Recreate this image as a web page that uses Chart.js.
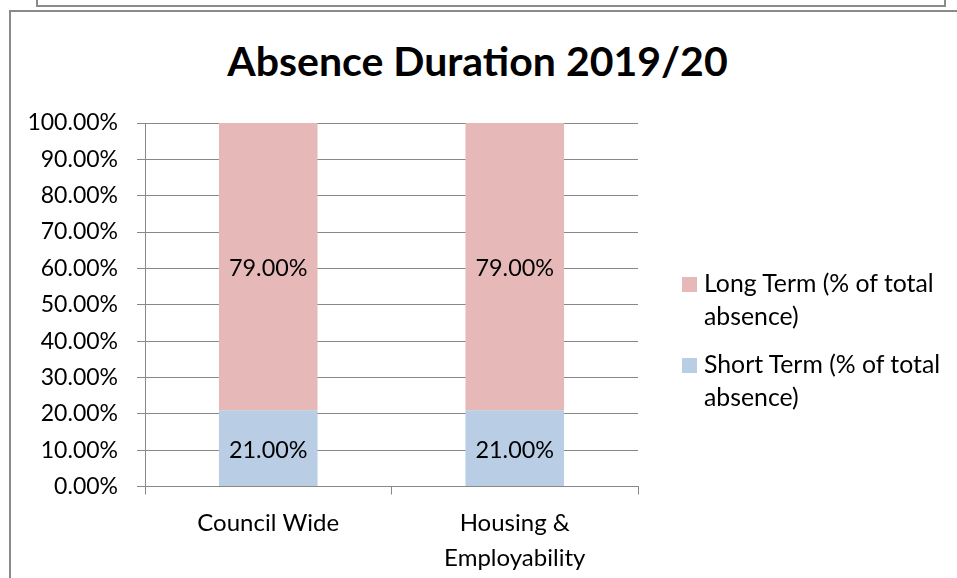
<!DOCTYPE html>
<html>
<head>
<meta charset="utf-8">
<script src="https://cdn.jsdelivr.net/npm/chart.js@4/dist/chart.umd.min.js"></script>
<style>
	body { margin: 0; background: #fff; width: 957px; height: 578px; overflow: hidden; position: relative; font-family: Lato, sans-serif; }
	div.topbox { position: absolute; left: 36px; top: -4px; width: 906px; height: 7px; border: 2px solid #8a8a8a; }
	div.chartbox { position: absolute; left: 9px; top: 10px; width: 980px; height: 600px; border-left: 2px solid #8a8a8a; border-top: 2px solid #8a8a8a; }
	div.title { position: absolute; left: 0; top: 36px; width: 955px; text-align: center; font-size: 41px; line-height: 50px; font-weight: bold; color: #000; }
	canvas#chart { position: absolute; left: 0; top: 0; }
	div.legend { position: absolute; left: 682px; top: 266px; width: 272px; }
	div.legend div.item { display: flex; align-items: flex-start; margin-bottom: 15px; }
	div.legend div.swatch { width: 15px; height: 15px; margin-top: 11px; margin-right: 7px; flex: none; }
	div.legend div.text { font-size: 24.8px; line-height: 33px; color: #000; width: 250px; }
</style>
</head>
<body>
<div class="topbox"></div>
<div class="chartbox"></div>
<div class="title"></div>
<canvas id="chart" width="957" height="578"></canvas>
<div class="legend"></div>
<script>
// chart values
const chart_title = 'Absence Duration 2019/20';
const categories = [['Council Wide'], ['Housing &', 'Employability']];
const short_term_label = 'Short Term (% of total absence)';
const long_term_label = 'Long Term (% of total absence)';
const short_term = [0.21, 0.21];
const long_term = [0.79, 0.79];
const short_color = '#b9cde5';
const long_color = '#e6b9b8';

const grid_color = '#888888';
const font_family = 'Lato, sans-serif';

document.querySelector('div.title').textContent = chart_title;

function formatPercent(v)
{
	return (v * 100).toFixed(2) + '%';
}

// draws value labels in the middle of each bar segment
const barLabels = {
	id: 'barLabels',
	afterDatasetsDraw: function(chart)
	{
		let ctx = chart.ctx;
		ctx.save();
		ctx.font = '23.4px ' + font_family;
		ctx.fillStyle = '#000';
		ctx.textAlign = 'center';
		ctx.textBaseline = 'middle';
		chart.data.datasets.forEach(function(ds, i)
		{
			let meta = chart.getDatasetMeta(i);
			meta.data.forEach(function(bar, j)
			{
				ctx.fillText(formatPercent(ds.data[j]), bar.x, (bar.y + bar.base) / 2 + 2);
			});
		});
		ctx.restore();
	}
};

let chart = new Chart(document.getElementById('chart'), {
	type: 'bar',
	data: {
		labels: categories,
		datasets: [
			{
				label: short_term_label,
				data: short_term,
				backgroundColor: short_color,
				borderWidth: 0,
				categoryPercentage: 1,
				barPercentage: 0.4
			},
			{
				label: long_term_label,
				data: long_term,
				backgroundColor: long_color,
				borderWidth: 0,
				categoryPercentage: 1,
				barPercentage: 0.4
			}
		]
	},
	options: {
		responsive: false,
		animation: false,
		layout: {
			padding: { left: 0, right: 319, top: 123, bottom: 0 }
		},
		plugins: {
			legend: { display: false },
			tooltip: { enabled: false },
			title: { display: false }
		},
		scales: {
			x: {
				stacked: true,
				grid: { drawOnChartArea: false, drawTicks: true, tickLength: 8, color: grid_color, offset: true },
				border: { display: true, color: grid_color, width: 1 },
				ticks: {
					color: '#000',
					padding: 11,
					maxRotation: 0,
					font: { family: font_family, size: 24, lineHeight: 1.46 }
				},
				afterFit: function(scale) { scale.height = 578 - 486.5; }
			},
			y: {
				stacked: true,
				min: 0,
				max: 1,
				grid: { color: grid_color, tickLength: 8, drawTicks: true },
				border: { display: true, color: grid_color, width: 1 },
				ticks: {
					stepSize: 0.1,
					color: '#000',
					padding: 19,
					font: { family: font_family, size: 23 },
					callback: function(v) { return formatPercent(v); }
				},
				afterFit: function(scale) { scale.width = 145; }
			}
		}
	},
	plugins: [barLabels]
});

// legend, long term listed first
let legend_node = document.querySelector('div.legend');
[1, 0].forEach(function(i)
{
	let ds = chart.data.datasets[i];
	let item_node = document.createElement('div');
	item_node.className = 'item';
	let swatch_node = document.createElement('div');
	swatch_node.className = 'swatch';
	swatch_node.style.background = ds.backgroundColor;
	let text_node = document.createElement('div');
	text_node.className = 'text';
	text_node.textContent = ds.label;
	item_node.appendChild(swatch_node);
	item_node.appendChild(text_node);
	legend_node.appendChild(item_node);
});
</script>
</body>
</html>
